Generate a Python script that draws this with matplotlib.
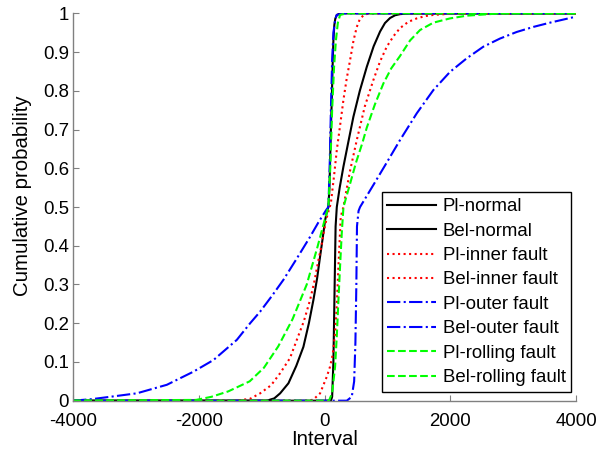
import matplotlib
matplotlib.use("Agg")
import matplotlib.pyplot as plt

plt.rcParams['font.family'] = ['Liberation Sans', 'DejaVu Sans']

# ---- data ----
pl_normal_x = [-4000, -919, -800, -707, -575, -450, -337, -250, -178, -120, -72, -30, 8, 40, 60, 77, 100, 114, 130, 140, 155, 170, 194, 250, 4000]
pl_normal_y = [0, 0, 0.006, 0.019, 0.045, 0.09, 0.139, 0.2, 0.26, 0.315, 0.372, 0.42, 0.466, 0.49, 0.5, 0.55, 0.7, 0.776, 0.88, 0.93, 0.97, 0.986, 0.996, 1, 1]

bel_normal_x = [-4000, 100, 120, 140, 160, 175, 194, 240, 299, 380, 458, 560, 671, 780, 882, 960, 1041, 1120, 1200, 1350, 4000]
bel_normal_y = [0, 0, 0.01, 0.1, 0.3, 0.45, 0.5, 0.55, 0.604, 0.67, 0.733, 0.8, 0.862, 0.915, 0.953, 0.975, 0.988, 0.995, 0.998, 1, 1]

pl_inner_x = [-4000, -1400, -1184, -1025, -850, -707, -550, -442, -330, -231, -160, -98, -50, -8, 45, 100, 150, 194, 250, 299, 350, 405, 460, 512, 560, 618, 700, 4000]
pl_inner_y = [0, 0, 0.005, 0.019, 0.04, 0.071, 0.11, 0.157, 0.205, 0.26, 0.31, 0.363, 0.4, 0.44, 0.48, 0.51, 0.58, 0.647, 0.715, 0.776, 0.83, 0.879, 0.93, 0.965, 0.985, 0.995, 1, 1]

bel_inner_x = [-4000, -250, -178, -72, 35, 87, 130, 167, 195, 220, 257, 299, 400, 512, 640, 776, 880, 989, 1100, 1200, 1330, 1466, 1600, 1730, 2000, 2200, 4000]
bel_inner_y = [0, 0, 0.003, 0.019, 0.062, 0.088, 0.12, 0.174, 0.25, 0.346, 0.475, 0.5, 0.59, 0.673, 0.76, 0.828, 0.875, 0.914, 0.942, 0.962, 0.978, 0.987, 0.993, 0.996, 0.999, 1, 1]

pl_outer_x = [-4000, -3700, -3410, -2986, -2509, -2085, -1767, -1396, -1184, -1025, -840, -655, -450, -231, -100, 24, 60, 80, 100, 120, 140, 170, 194, 300, 4000]
pl_outer_y = [0, 0.004, 0.01, 0.019, 0.041, 0.075, 0.105, 0.157, 0.2, 0.23, 0.27, 0.312, 0.365, 0.423, 0.46, 0.492, 0.5, 0.6, 0.75, 0.88, 0.95, 0.985, 0.996, 1, 1]

bel_outer_x = [-4000, 353, 432, 470, 490, 505, 515, 540, 564, 776, 1000, 1200, 1466, 1730, 1995, 2261, 2525, 2790, 3056, 3320, 3585, 3956, 4000]
bel_outer_y = [0, 0, 0.01, 0.05, 0.15, 0.3, 0.45, 0.49, 0.5, 0.557, 0.618, 0.673, 0.742, 0.802, 0.849, 0.884, 0.914, 0.935, 0.952, 0.965, 0.976, 0.99, 0.991]

pl_rolling_x = [-4000, -2043, -1800, -1532, -1191, -965, -738, -511, -284, -113, 0, 60, 90, 120, 150, 180, 210, 246, 350, 4000]
pl_rolling_y = [0, 0.002, 0.01, 0.024, 0.05, 0.085, 0.14, 0.21, 0.3, 0.397, 0.466, 0.5, 0.6, 0.75, 0.86, 0.93, 0.975, 0.996, 1, 1]

bel_rolling_x = [-4000, 70, 120, 167, 195, 220, 250, 273, 300, 405, 500, 600, 671, 800, 935, 1060, 1200, 1359, 1518, 1730, 1995, 2261, 2525, 2800, 4000]
bel_rolling_y = [0, 0, 0.02, 0.088, 0.17, 0.26, 0.36, 0.432, 0.5, 0.56, 0.615, 0.665, 0.705, 0.765, 0.819, 0.858, 0.89, 0.93, 0.957, 0.976, 0.987, 0.994, 0.997, 1, 1]

labels = ['Pl-normal', 'Bel-normal', 'Pl-inner fault', 'Bel-inner fault',
          'Pl-outer fault', 'Bel-outer fault', 'Pl-rolling fault', 'Bel-rolling fault']
x_ticks = [-4000, -2000, 0, 2000, 4000]
y_ticks = [0, 0.1, 0.2, 0.3, 0.4, 0.5, 0.6, 0.7, 0.8, 0.9, 1]

series = [
    (pl_normal_x, pl_normal_y, 'k', '-'),
    (bel_normal_x, bel_normal_y, 'k', '-'),
    (pl_inner_x, pl_inner_y, '#ff0000', ':'),
    (bel_inner_x, bel_inner_y, '#ff0000', ':'),
    (pl_outer_x, pl_outer_y, '#0000ff', '-.'),
    (bel_outer_x, bel_outer_y, '#0000ff', '-.'),
    (pl_rolling_x, pl_rolling_y, '#00ff00', '--'),
    (bel_rolling_x, bel_rolling_y, '#00ff00', '--'),
]

fig = plt.figure(figsize=(6.09, 4.53), dpi=100)
ax = fig.add_axes([0.12, 0.1155, 0.826, 0.855])

for (xs, ys, c, ls), lab in zip(series, labels):
    ax.plot(xs, ys, color=c, linestyle=ls, linewidth=1.5, label=lab)

ax.set_xlim(-4000, 4000)
ax.set_ylim(0, 1)
ax.set_xticks(x_ticks)
ax.set_xticklabels([str(t) for t in x_ticks])
ax.set_yticks(y_ticks)
ax.set_yticklabels(['0', '0.1', '0.2', '0.3', '0.4', '0.5', '0.6', '0.7', '0.8', '0.9', '1'])
ax.tick_params(direction='in', length=4, width=0.8, color='#808080', labelsize=13.4)
ax.tick_params(axis='x', pad=9)
ax.tick_params(axis='y', pad=3)
for s in ['top', 'right']:
    ax.spines[s].set_visible(False)
for s in ['left', 'bottom']:
    ax.spines[s].set_color('#808080')
    ax.spines[s].set_linewidth(1.0)

ax.set_xlabel('Interval', fontsize=14.7, labelpad=0)
ax.set_ylabel('Cumulative probability', fontsize=14.7, labelpad=8)
ax.yaxis.label.set_y(0.53)

leg = ax.legend(loc='lower right', bbox_to_anchor=(0.99, 0.0225), borderaxespad=0,
                fontsize=13.4, handlelength=2.6, handletextpad=0.36, labelspacing=0.4,
                borderpad=0.3, fancybox=False, framealpha=1, edgecolor='black')
leg.get_frame().set_linewidth(1.0)

fig.savefig('out.png', dpi=100)
